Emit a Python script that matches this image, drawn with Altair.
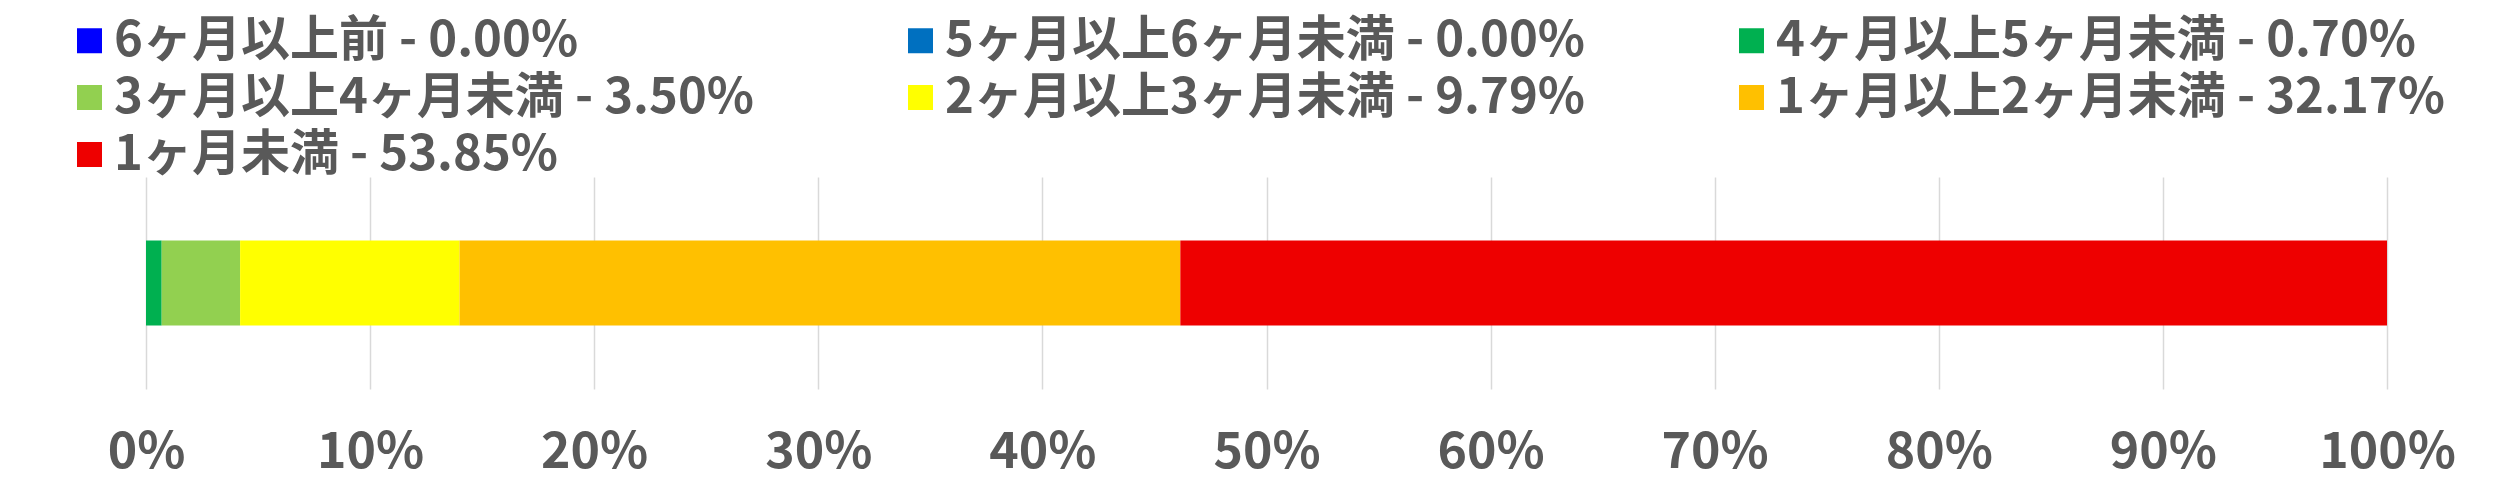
import altair as alt
import pandas as pd

categories = ["6ヶ月以上前", "5ヶ月以上6ヶ月未満", "4ヶ月以上5ヶ月未満",
              "3ヶ月以上4ヶ月未満", "2ヶ月以上3ヶ月未満", "1ヶ月以上2ヶ月未満", "1ヶ月未満"]
values = [0.00, 0.00, 0.70, 3.50, 9.79, 32.17, 53.85]
colors = ["#0000FF", "#0070C0", "#00B050", "#92D050", "#FFFF00", "#FFC000", "#EE0000"]

labels = [f"{c} - {v:.2f}%" for c, v in zip(categories, values)]
df = pd.DataFrame({"label": labels, "value": values, "order": list(range(len(labels))), "row": ["a"] * len(labels)})

FONT = "Noto Sans CJK JP"

chart = alt.Chart(df).mark_bar(size=85).encode(
    x=alt.X("value:Q", stack="normalize",
            scale=alt.Scale(domain=[0, 1], nice=False),
            axis=alt.Axis(format=".0%", values=[i / 10 for i in range(11)], title=None,
                          grid=True, gridColor="#D9D9D9", gridWidth=1.5,
                          domain=False, ticks=False, labelPadding=38, labelFlush=False,
                          labelOverlap=False,
                          labelFontSize=50, labelFont=FONT, labelFontWeight="bold",
                          labelColor="#595959")),
    y=alt.Y("row:N", axis=None),
    color=alt.Color("label:N", scale=alt.Scale(domain=labels, range=colors),
                    legend=alt.Legend(orient="none", legendX=-81, legendY=-161,
                                      direction="horizontal", columns=3, title=None,
                                      symbolType="square", symbolSize=625, symbolStrokeWidth=0,
                                      labelFontSize=49, labelFont=FONT, labelFontWeight="bold",
                                      labelColor="#595959", labelOffset=0, labelLimit=2000,
                                      columnPadding=141, rowPadding=7, padding=0)),
    order=alt.Order("order:Q"),
).properties(
    width=2241, height=212,
    autosize=alt.AutoSizeParams(type="none"),
    padding={"left": 138, "top": 169, "right": 120, "bottom": 100},
).configure_view(stroke=None)

chart.save("out.html", embed_options={"renderer": "svg", "actions": False})
